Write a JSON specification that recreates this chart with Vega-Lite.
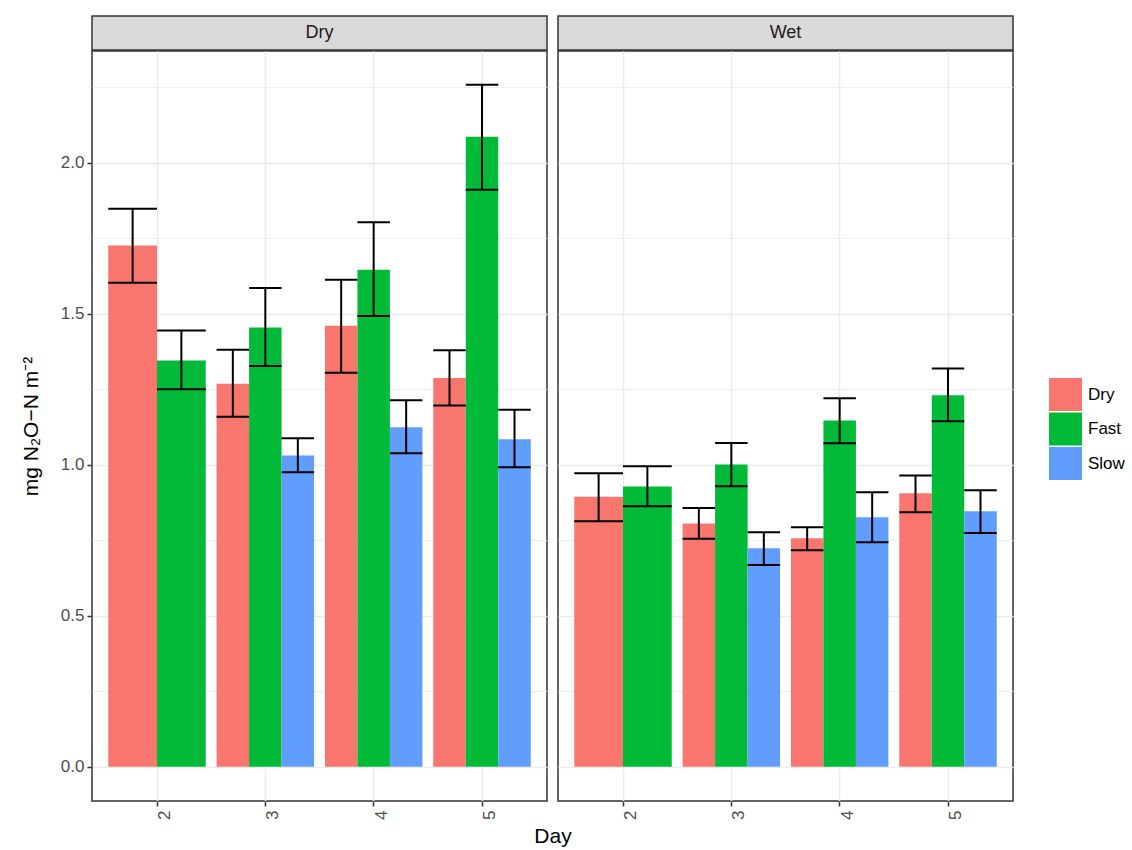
{
  "$schema": "https://vega.github.io/schema/vega-lite/v6.json",
  "padding": {"left": 19, "top": 15, "right": 0, "bottom": 0},
  "background": "white",
  "spacing": 9,
  "title": {"text": "Day", "orient": "bottom", "anchor": "start", "frame": "group", "align": "center", "dx": 461, "offset": 6, "fontSize": 21, "fontWeight": "normal", "color": "#000000", "font": "Liberation Sans"},
  "config": {
    "font": "Liberation Sans",
    "view": {"stroke": "#333333", "strokeWidth": 1.5},
    "legend": {
      "orient": "none", "legendX": 957, "legendY": 362,
      "title": null, "symbolType": "square", "symbolSize": 1089,
      "symbolStrokeWidth": 0, "symbolOpacity": 1,
      "labelFontSize": 17, "labelColor": "#000000", "labelOffset": 6,
      "rowPadding": 1.5, "padding": 0
    }
  },
  "datasets": {
    "d": [
      {"Condition": "Dry", "Day": 2, "Treatment": "Dry", "mean": 1.726, "lo": 1.603, "hi": 1.848},
      {"Condition": "Dry", "Day": 2, "Treatment": "Fast", "mean": 1.345, "lo": 1.250, "hi": 1.445},
      {"Condition": "Dry", "Day": 3, "Treatment": "Dry", "mean": 1.268, "lo": 1.159, "hi": 1.381},
      {"Condition": "Dry", "Day": 3, "Treatment": "Fast", "mean": 1.455, "lo": 1.327, "hi": 1.585},
      {"Condition": "Dry", "Day": 3, "Treatment": "Slow", "mean": 1.031, "lo": 0.975, "hi": 1.088},
      {"Condition": "Dry", "Day": 4, "Treatment": "Dry", "mean": 1.460, "lo": 1.305, "hi": 1.613},
      {"Condition": "Dry", "Day": 4, "Treatment": "Fast", "mean": 1.646, "lo": 1.493, "hi": 1.803},
      {"Condition": "Dry", "Day": 4, "Treatment": "Slow", "mean": 1.124, "lo": 1.038, "hi": 1.214},
      {"Condition": "Dry", "Day": 5, "Treatment": "Dry", "mean": 1.287, "lo": 1.196, "hi": 1.379},
      {"Condition": "Dry", "Day": 5, "Treatment": "Fast", "mean": 2.086, "lo": 1.911, "hi": 2.258},
      {"Condition": "Dry", "Day": 5, "Treatment": "Slow", "mean": 1.085, "lo": 0.992, "hi": 1.182},
      {"Condition": "Wet", "Day": 2, "Treatment": "Dry", "mean": 0.894, "lo": 0.813, "hi": 0.972},
      {"Condition": "Wet", "Day": 2, "Treatment": "Fast", "mean": 0.928, "lo": 0.863, "hi": 0.995},
      {"Condition": "Wet", "Day": 3, "Treatment": "Dry", "mean": 0.806, "lo": 0.755, "hi": 0.857},
      {"Condition": "Wet", "Day": 3, "Treatment": "Fast", "mean": 1.001, "lo": 0.929, "hi": 1.072},
      {"Condition": "Wet", "Day": 3, "Treatment": "Slow", "mean": 0.724, "lo": 0.668, "hi": 0.777},
      {"Condition": "Wet", "Day": 4, "Treatment": "Dry", "mean": 0.757, "lo": 0.717, "hi": 0.793},
      {"Condition": "Wet", "Day": 4, "Treatment": "Fast", "mean": 1.147, "lo": 1.071, "hi": 1.220},
      {"Condition": "Wet", "Day": 4, "Treatment": "Slow", "mean": 0.826, "lo": 0.744, "hi": 0.909},
      {"Condition": "Wet", "Day": 5, "Treatment": "Dry", "mean": 0.906, "lo": 0.843, "hi": 0.965},
      {"Condition": "Wet", "Day": 5, "Treatment": "Fast", "mean": 1.230, "lo": 1.144, "hi": 1.319},
      {"Condition": "Wet", "Day": 5, "Treatment": "Slow", "mean": 0.846, "lo": 0.774, "hi": 0.916}
    ]
  },
  "hconcat": [
    {
      "spacing": -2.5,
      "vconcat": [
        {
          "width": 455, "height": 34,
          "view": {"fill": "#d9d9d9", "stroke": "#333333", "strokeWidth": 1.5},
          "data": {"values": [{"label": "Dry"}]},
          "mark": {"type": "text", "fontSize": 18, "color": "#1a1a1a"},
          "encoding": {"text": {"field": "label"}}
        },
        {
          "width": 455, "height": 750,
          "data": {"name": "d"},
          "transform": [{"filter": "datum.Condition === 'Dry'"}],
          "encoding": {
            "x": {
              "field": "Day", "type": "ordinal",
              "scale": {"domain": [2, 3, 4, 5], "paddingInner": 0.1, "paddingOuter": 0.15},
              "axis": {
                "title": null,
                "labelAngle": 270, "labelAlign": "right", "labelBaseline": "top",
                "labelFontSize": 17, "labelColor": "#4d4d4d", "labelPadding": 4,
                "tickSize": 5, "tickColor": "#333333", "tickWidth": 1.5,
                "domain": false, "grid": true, "gridColor": "#ebebeb", "gridWidth": 1.5,
                "bandPosition": 0.5
              }
            }
          },
          "layer": [
            {
              "transform": [{"filter": "datum.Day === 2"}],
              "encoding": {"xOffset": {"field": "Treatment", "type": "nominal"}},
              "layer": [
                {
                  "mark": {"type": "bar"},
                  "encoding": {
                    "y": {
                      "field": "mean", "type": "quantitative", "title": "mg N₂O−N m⁻²",
                      "scale": {"domain": [-0.113, 2.37], "nice": false, "zero": false},
                      "axis": {
                        "values": [0, 0.25, 0.5, 0.75, 1, 1.25, 1.5, 1.75, 2, 2.25],
                        "labelExpr": "datum.value % 0.5 === 0 ? format(datum.value, '.1f') : ''",
                        "tickOpacity": {"condition": {"test": "datum.value % 0.5 === 0", "value": 1}, "value": 0},
                        "gridWidth": {"condition": {"test": "datum.value % 0.5 === 0", "value": 1.5}, "value": 0.8},
                        "gridColor": "#ebebeb",
                        "labelFontSize": 17, "labelColor": "#4d4d4d", "labelPadding": 3,
                        "tickSize": 5, "tickColor": "#333333", "tickWidth": 1.5,
                        "domain": false,
                        "titleFontSize": 21, "titleFontWeight": "normal", "titleColor": "#000000",
                        "titlePadding": 19
                      }
                    },
                    "y2": {"datum": 0},
                    "color": {
                      "field": "Treatment", "type": "nominal",
                      "scale": {"domain": ["Dry", "Fast", "Slow"], "range": ["#F8766D", "#00BA38", "#619CFF"]}
                    }
                  }
                },
                {
                  "mark": {"type": "rule", "color": "#000000", "strokeWidth": 2},
                  "encoding": {
                    "y": {"field": "lo", "type": "quantitative", "title": "mg N₂O−N m⁻²"},
                    "y2": {"field": "hi"}
                  }
                },
                {
                  "mark": {"type": "tick", "color": "#000000", "thickness": 2, "size": 48.75, "opacity": 1},
                  "encoding": {"y": {"field": "lo", "type": "quantitative", "title": "mg N₂O−N m⁻²"}}
                },
                {
                  "mark": {"type": "tick", "color": "#000000", "thickness": 2, "size": 48.75, "opacity": 1},
                  "encoding": {"y": {"field": "hi", "type": "quantitative", "title": "mg N₂O−N m⁻²"}}
                }
              ]
            },
            {
              "transform": [{"filter": "datum.Day !== 2"}],
              "encoding": {"xOffset": {"field": "Treatment", "type": "nominal"}},
              "layer": [
                {
                  "mark": {"type": "bar"},
                  "encoding": {
                    "y": {"field": "mean", "type": "quantitative", "title": "mg N₂O−N m⁻²"},
                    "y2": {"datum": 0},
                    "color": {"field": "Treatment", "type": "nominal"}
                  }
                },
                {
                  "mark": {"type": "rule", "color": "#000000", "strokeWidth": 2},
                  "encoding": {
                    "y": {"field": "lo", "type": "quantitative", "title": "mg N₂O−N m⁻²"},
                    "y2": {"field": "hi"}
                  }
                },
                {
                  "mark": {"type": "tick", "color": "#000000", "thickness": 2, "size": 32.5, "opacity": 1},
                  "encoding": {"y": {"field": "lo", "type": "quantitative", "title": "mg N₂O−N m⁻²"}}
                },
                {
                  "mark": {"type": "tick", "color": "#000000", "thickness": 2, "size": 32.5, "opacity": 1},
                  "encoding": {"y": {"field": "hi", "type": "quantitative", "title": "mg N₂O−N m⁻²"}}
                }
              ]
            }
          ],
          "resolve": {"scale": {"xOffset": "independent"}}
        }
      ]
    },
    {
      "spacing": -2.5,
      "vconcat": [
        {
          "width": 455, "height": 34,
          "view": {"fill": "#d9d9d9", "stroke": "#333333", "strokeWidth": 1.5},
          "data": {"values": [{"label": "Wet"}]},
          "mark": {"type": "text", "fontSize": 18, "color": "#1a1a1a"},
          "encoding": {"text": {"field": "label"}}
        },
        {
          "width": 455, "height": 750,
          "data": {"name": "d"},
          "transform": [{"filter": "datum.Condition === 'Wet'"}],
          "encoding": {
            "x": {
              "field": "Day", "type": "ordinal",
              "scale": {"domain": [2, 3, 4, 5], "paddingInner": 0.1, "paddingOuter": 0.15},
              "axis": {
                "title": null,
                "labelAngle": 270, "labelAlign": "right", "labelBaseline": "top",
                "labelFontSize": 17, "labelColor": "#4d4d4d", "labelPadding": 4,
                "tickSize": 5, "tickColor": "#333333", "tickWidth": 1.5,
                "domain": false, "grid": true, "gridColor": "#ebebeb", "gridWidth": 1.5,
                "bandPosition": 0.5
              }
            }
          },
          "layer": [
            {
              "transform": [{"filter": "datum.Day === 2"}],
              "encoding": {"xOffset": {"field": "Treatment", "type": "nominal"}},
              "layer": [
                {
                  "mark": {"type": "bar"},
                  "encoding": {
                    "y": {
                      "field": "mean", "type": "quantitative", "title": null,
                      "scale": {"domain": [-0.113, 2.37], "nice": false, "zero": false},
                      "axis": {
                        "values": [0, 0.25, 0.5, 0.75, 1, 1.25, 1.5, 1.75, 2, 2.25],
                        "labels": false, "ticks": false, "domain": false,
                        "gridWidth": {"condition": {"test": "datum.value % 0.5 === 0", "value": 1.5}, "value": 0.8},
                        "gridColor": "#ebebeb"
                      }
                    },
                    "y2": {"datum": 0},
                    "color": {
                      "field": "Treatment", "type": "nominal",
                      "scale": {"domain": ["Dry", "Fast", "Slow"], "range": ["#F8766D", "#00BA38", "#619CFF"]}
                    }
                  }
                },
                {
                  "mark": {"type": "rule", "color": "#000000", "strokeWidth": 2},
                  "encoding": {
                    "y": {"field": "lo", "type": "quantitative", "title": null},
                    "y2": {"field": "hi"}
                  }
                },
                {
                  "mark": {"type": "tick", "color": "#000000", "thickness": 2, "size": 48.75, "opacity": 1},
                  "encoding": {"y": {"field": "lo", "type": "quantitative", "title": null}}
                },
                {
                  "mark": {"type": "tick", "color": "#000000", "thickness": 2, "size": 48.75, "opacity": 1},
                  "encoding": {"y": {"field": "hi", "type": "quantitative", "title": null}}
                }
              ]
            },
            {
              "transform": [{"filter": "datum.Day !== 2"}],
              "encoding": {"xOffset": {"field": "Treatment", "type": "nominal"}},
              "layer": [
                {
                  "mark": {"type": "bar"},
                  "encoding": {
                    "y": {"field": "mean", "type": "quantitative", "title": null},
                    "y2": {"datum": 0},
                    "color": {"field": "Treatment", "type": "nominal"}
                  }
                },
                {
                  "mark": {"type": "rule", "color": "#000000", "strokeWidth": 2},
                  "encoding": {
                    "y": {"field": "lo", "type": "quantitative", "title": null},
                    "y2": {"field": "hi"}
                  }
                },
                {
                  "mark": {"type": "tick", "color": "#000000", "thickness": 2, "size": 32.5, "opacity": 1},
                  "encoding": {"y": {"field": "lo", "type": "quantitative", "title": null}}
                },
                {
                  "mark": {"type": "tick", "color": "#000000", "thickness": 2, "size": 32.5, "opacity": 1},
                  "encoding": {"y": {"field": "hi", "type": "quantitative", "title": null}}
                }
              ]
            }
          ],
          "resolve": {"scale": {"xOffset": "independent"}}
        }
      ]
    }
  ],
  "resolve": {"scale": {"color": "shared"}, "legend": {"color": "shared"}}
}
